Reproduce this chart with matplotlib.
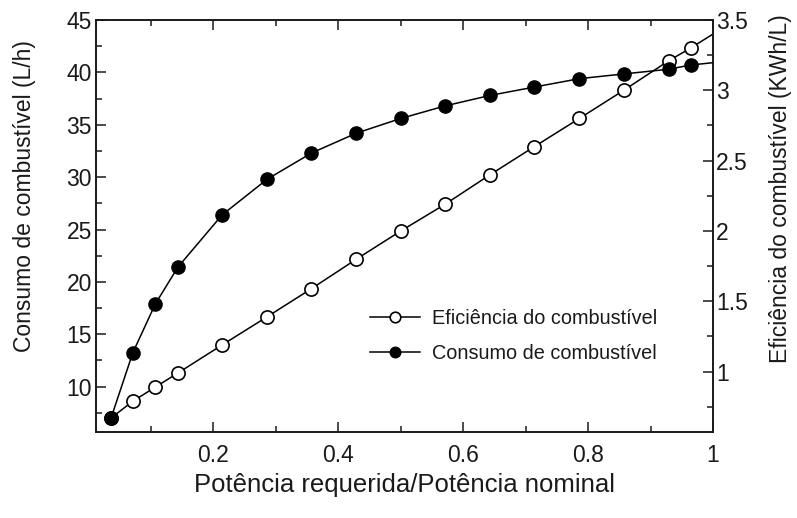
import matplotlib
matplotlib.use("Agg")
import matplotlib.pyplot as plt
from matplotlib.ticker import MultipleLocator, FormatStrFormatter

plt.rcParams["font.family"] = ["Liberation Sans", "DejaVu Sans"]

TEXT = "#1a1a1a"

# potência requerida / potência nominal (last point lies just past the axis edge)
potencia = [0.036, 0.071, 0.107, 0.143, 0.214, 0.286, 0.357, 0.429, 0.500,
            0.571, 0.643, 0.714, 0.786, 0.857, 0.929, 0.964, 1.036]
# consumo de combustível (L/h)
consumo = [7.0, 13.25, 17.9, 21.4, 26.4, 29.8, 32.3, 34.2, 35.6,
           36.8, 37.8, 38.6, 39.4, 39.85, 40.3, 40.7, 41.15]
# eficiência do combustível (KWh/L)
eficiencia = [0.67, 0.79, 0.89, 0.99, 1.19, 1.39, 1.59, 1.80, 2.00,
              2.19, 2.40, 2.60, 2.80, 3.00, 3.21, 3.30, 3.50]

fig = plt.figure(figsize=(7.97, 5.18), dpi=100)
ax = fig.add_axes([0.1205, 0.1666, 0.7741, 0.7948])
ax2 = ax.twinx()

# ── series ─────────────────────────────────────────────────────────────────
l_ef, = ax2.plot(potencia, eficiencia, color="black", lw=1.1, marker="o",
                 ms=9.5, mfc="white", mec="black", mew=1.2, zorder=2,
                 label="Eficiência do combustível")
l_co, = ax.plot(potencia, consumo, color="black", lw=1.1, marker="o",
                ms=9.5, mfc="black", mec="black", zorder=3,
                label="Consumo de combustível")
ax.set_zorder(ax2.get_zorder() + 1)
ax.patch.set_visible(False)

# ── axes limits & ticks ────────────────────────────────────────────────────
ax.set_xlim(0.012, 1.0)
ax.set_ylim(5.7, 45)
ax2.set_ylim(0.573, 3.5)

ax.xaxis.set_major_locator(MultipleLocator(0.2))
ax.xaxis.set_minor_locator(MultipleLocator(0.1))
ax.xaxis.set_major_formatter(FormatStrFormatter("%g"))
ax.yaxis.set_major_locator(MultipleLocator(5))
ax.yaxis.set_minor_locator(MultipleLocator(2.5))
ax2.yaxis.set_major_locator(MultipleLocator(0.5))
ax2.yaxis.set_minor_locator(MultipleLocator(0.25))
ax2.yaxis.set_major_formatter(FormatStrFormatter("%g"))

ax.tick_params(axis="x", which="both", direction="in", top=True,
               labelsize=16.5, pad=9, colors=TEXT, width=1.1)
ax.tick_params(axis="y", which="both", direction="in", right=False,
               labelsize=16.5, pad=3, colors=TEXT, width=1.1)
ax2.tick_params(axis="y", which="both", direction="in",
                labelsize=16.5, pad=2, colors=TEXT, width=1.1)
for a in (ax, ax2):
    a.tick_params(which="major", length=7)
    a.tick_params(which="minor", length=4.5)
    for s in a.spines.values():
        s.set_linewidth(1.2)
        s.set_color(TEXT)

# ── labels ─────────────────────────────────────────────────────────────────
ax.set_xlabel("Potência requerida/Potência nominal", fontsize=18.5, color=TEXT)
ax.set_ylabel("Consumo de combustível (L/h)", fontsize=16.5, color=TEXT)
ax2.set_ylabel("Eficiência do combustível (KWh/L)", fontsize=16.5, color=TEXT)
ax.xaxis.set_label_coords(0.5, -0.1)
ax.yaxis.set_label_coords(-0.097, 0.572)
ax2.yaxis.set_label_coords(1.09, 0.59)

# ── legend ─────────────────────────────────────────────────────────────────
ax.legend(handles=[l_ef, l_co], loc="center left",
          bbox_to_anchor=(0.444, 0.2325), frameon=False, fontsize=14.3,
          borderpad=0, borderaxespad=0, handlelength=2.5, handletextpad=0.6,
          labelspacing=0.85, markerscale=0.8, labelcolor=TEXT)

fig.savefig("out.png", dpi=100, facecolor="white")
